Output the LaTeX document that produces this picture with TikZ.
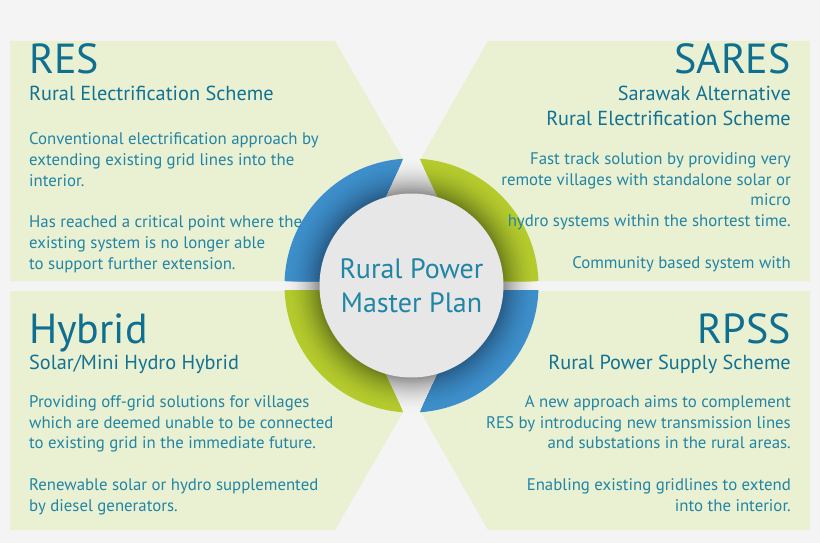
\documentclass[tikz,border=0pt]{standalone}
\usepackage{fontspec}
\setmainfont{PT Sans}
\usetikzlibrary{positioning}

\definecolor{pagegrey}{HTML}{F4F4F4}
\definecolor{panelgreen}{HTML}{EAF0D2}
\definecolor{ringblue}{HTML}{3D8FCB}
\definecolor{ringbluedark}{HTML}{275B86}
\definecolor{ringgreen}{HTML}{B5CB2C}
\definecolor{ringgreendark}{HTML}{6C7D1C}
\definecolor{gaplight}{HTML}{F3F3F3}
\definecolor{gapdark}{HTML}{8E8E8E}
\definecolor{hubgrey}{HTML}{E7E7E7}
\definecolor{titleteal}{HTML}{0E6F91}
\definecolor{bodyteal}{HTML}{2185A5}

% one coloured quarter of the ring, shaded from the rim inwards
\newcommand{\ringpart}[3]{%
  \begin{scope}
    \clip #1;
    \foreach \i in {0,...,24}{%
      \pgfmathsetmacro\ringrad{127-\i*35/24}%
      \pgfmathsetmacro\ringtone{100*(\i/24)^1.8}%
      \fill[#3!\ringtone!#2] (hubc) circle[radius=\ringrad];
    }
  \end{scope}}

\begin{document}
\begin{tikzpicture}[
  x=1pt, y=-1pt,
  panel/.style={fill=panelgreen},
  headline/.style={font=\fontsize{42}{48}\selectfont, text=titleteal, inner sep=0pt},
  subline/.style={font=\fontsize{20.3}{25}\selectfont, text=titleteal!85!bodyteal, inner sep=0pt},
  bodytext/.style={font=\fontsize{16.8}{20.7}\selectfont, text=bodyteal, inner sep=0pt},
  hub/.style={
    circle,
    fill=hubgrey,
    minimum size=184pt,
    inner sep=0pt,
    align=center,
    font=\fontsize{28}{34}\selectfont,
    text=bodyteal
  }
]
  \useasboundingbox (0,0) rectangle (820,543);
  \fill[pagegrey] (0,0) rectangle (820,543);

  % the four panels
  \fill[panel] (10,41) -- (335,41) -- (409.3,170) -- (411.5,281) -- (10,281) -- cycle;
  \fill[panel] (488,41) -- (810,41) -- (810,281) -- (411.5,281) -- (414.3,170) -- cycle;
  \fill[panel] (10,291) -- (411.5,291) -- (409.9,400) -- (335,530) -- (10,530) -- cycle;
  \fill[panel] (411.5,291) -- (810,291) -- (810,530) -- (488,530) -- (413.8,400) -- cycle;

  % ring
  \coordinate (hubc) at (411.5,285.5);
  \foreach \i in {0,...,24}{
    \pgfmathsetmacro\ringrad{127-\i*35/24}
    \pgfmathsetmacro\ringtone{100*(\i/24)^1.8}
    \fill[gapdark!\ringtone!gaplight] (hubc) circle[radius=\ringrad];
  }
  \ringpart{(250,281) -- (250,100) -- (430.7,100) -- (345.7,281) -- cycle}{ringblue}{ringbluedark}
  \ringpart{(392.3,100) -- (570,100) -- (570,281) -- (477.3,281) -- cycle}{ringgreen}{ringgreendark}
  \ringpart{(250,290) -- (345.7,290) -- (430.3,470) -- (250,470) -- cycle}{ringgreen}{ringgreendark}
  \ringpart{(477.3,290) -- (570,290) -- (570,470) -- (392.7,470) -- cycle}{ringblue}{ringbluedark}

  \node[hub] (hub) at (hubc) {Rural Power\\Master Plan};

  % RES
  \node[headline, anchor=base west] (restitle) at (29,74) {RES};
  \node[subline, anchor=base west] (ressub) at (29,100) {Rural Electrification Scheme};
  \node[bodytext, anchor=base west, align=left] (resbody) at (29,269)
    {Conventional electrification approach by\\extending existing grid lines into the\\interior.\\[20.7pt]
     Has reached a critical point where the\\existing system is no longer able\\to support further extension.};

  % SARES
  \node[headline, anchor=base east] (sarestitle) at (791,74) {SARES};
  \node[subline, anchor=base east, align=right] (saressub) at (791,125)
    {Sarawak Alternative\\Rural Electrification Scheme};
  \node[bodytext, anchor=base east, align=right] (saresbody) at (791,268)
    {Fast track solution by providing very\\remote villages with standalone solar or\\micro\\hydro systems within the shortest time.\\[20.7pt]
     Community based system with};

  % Hybrid
  \node[headline, anchor=base west] (hybtitle) at (29,343) {Hybrid};
  \node[subline, anchor=base west] (hybsub) at (29,369) {Solar/Mini Hydro Hybrid};
  \node[bodytext, anchor=base west, align=left] (hybbody) at (29,511)
    {Providing off-grid solutions for villages\\which are deemed unable to be connected\\to existing grid in the immediate future.\\[20.7pt]
     Renewable solar or hydro supplemented\\by diesel generators.};

  % RPSS
  \node[headline, anchor=base east] (rpsstitle) at (791,343) {RPSS};
  \node[subline, anchor=base east] (rpsssub) at (791,369) {Rural Power Supply Scheme};
  \node[bodytext, anchor=base east, align=right] (rpssbody) at (791,511)
    {A new approach aims to complement\\RES by introducing new transmission lines\\and substations in the rural areas.\\[20.7pt]
     Enabling existing gridlines to extend\\into the interior.};
\end{tikzpicture}
\end{document}
